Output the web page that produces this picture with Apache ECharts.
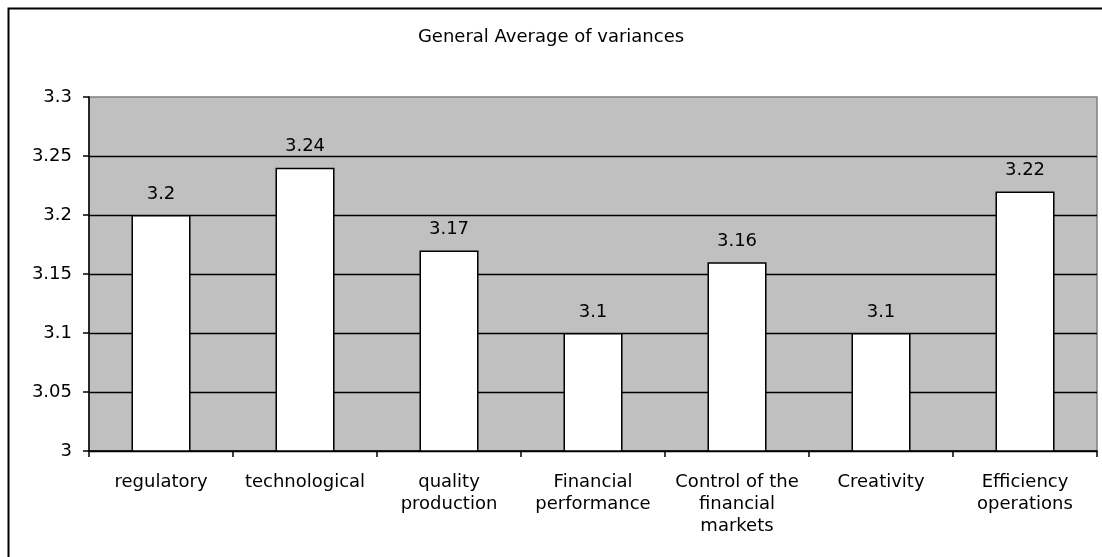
<!DOCTYPE html>
<html>
<head>
<meta charset="utf-8">
<script src="https://cdn.jsdelivr.net/npm/echarts@6/dist/echarts.min.js"></script>
<style>
  html, body { margin: 0; padding: 0; background: #fff; }
  #chart { width: 1102px; height: 557px; }
</style>
</head>
<body>
<div id="chart"></div>
<script>
// Dimensions measured on the survey
const categories = [
  'regulatory',
  'technological',
  'quality\nproduction',
  'Financial\nperformance',
  'Control of the\nfinancial\nmarkets',
  'Creativity',
  'Efficiency\noperations'
];
const averages = [3.2, 3.24, 3.17, 3.1, 3.16, 3.1, 3.22];
const yTicks = { min: 3, max: 3.3, step: 0.05 };

const chart = echarts.init(document.getElementById('chart'), null, { renderer: 'canvas' });
const font = '"DejaVu Sans", Verdana, sans-serif';
const fontSize = 18;

chart.setOption({
  animation: false,
  backgroundColor: '#fff',
  title: {
    text: 'General Average of variances',
    left: 'center',
    top: 23,
    textStyle: { fontFamily: font, fontSize: fontSize, fontWeight: 'normal', color: '#000' }
  },
  graphic: [{
    type: 'rect',
    shape: { x: 8.5, y: 8.5, width: 1100, height: 560 },
    style: { fill: 'none', stroke: '#000', lineWidth: 2 },
    silent: true,
    z: 100
  }],
  grid: {
    left: 89, right: 5, top: 97, bottom: 106,
    show: true,
    backgroundColor: '#c0c0c0',
    borderColor: '#808080',
    borderWidth: 1.5
  },
  xAxis: {
    type: 'category',
    data: categories,
    axisLine: { lineStyle: { color: '#000', width: 1.5 } },
    axisTick: { show: true, length: 6, lineStyle: { color: '#000', width: 1.5 } },
    axisLabel: {
      interval: 0,
      margin: 20,
      fontFamily: font, fontSize: fontSize, color: '#000',
      lineHeight: 22
    }
  },
  yAxis: {
    type: 'value',
    min: yTicks.min,
    max: yTicks.max,
    interval: yTicks.step,
    axisLine: { show: true, lineStyle: { color: '#000', width: 1.5 } },
    axisTick: { show: true, length: 6, lineStyle: { color: '#000', width: 1.5 } },
    splitLine: { show: true, showMaxLine: false, lineStyle: { color: '#000', width: 1.3 } },
    axisLabel: {
      margin: 17,
      fontFamily: font, fontSize: fontSize, color: '#000',
      formatter: v => String(Math.round(v * 100) / 100)
    }
  },
  series: [{
    type: 'bar',
    data: averages,
    barCategoryGap: '59%',
    itemStyle: { color: '#fff', borderColor: '#000', borderWidth: 1.5 },
    label: {
      show: true,
      position: 'top',
      distance: 12,
      fontFamily: font, fontSize: fontSize, color: '#000'
    }
  }]
});
</script>
</body>
</html>
